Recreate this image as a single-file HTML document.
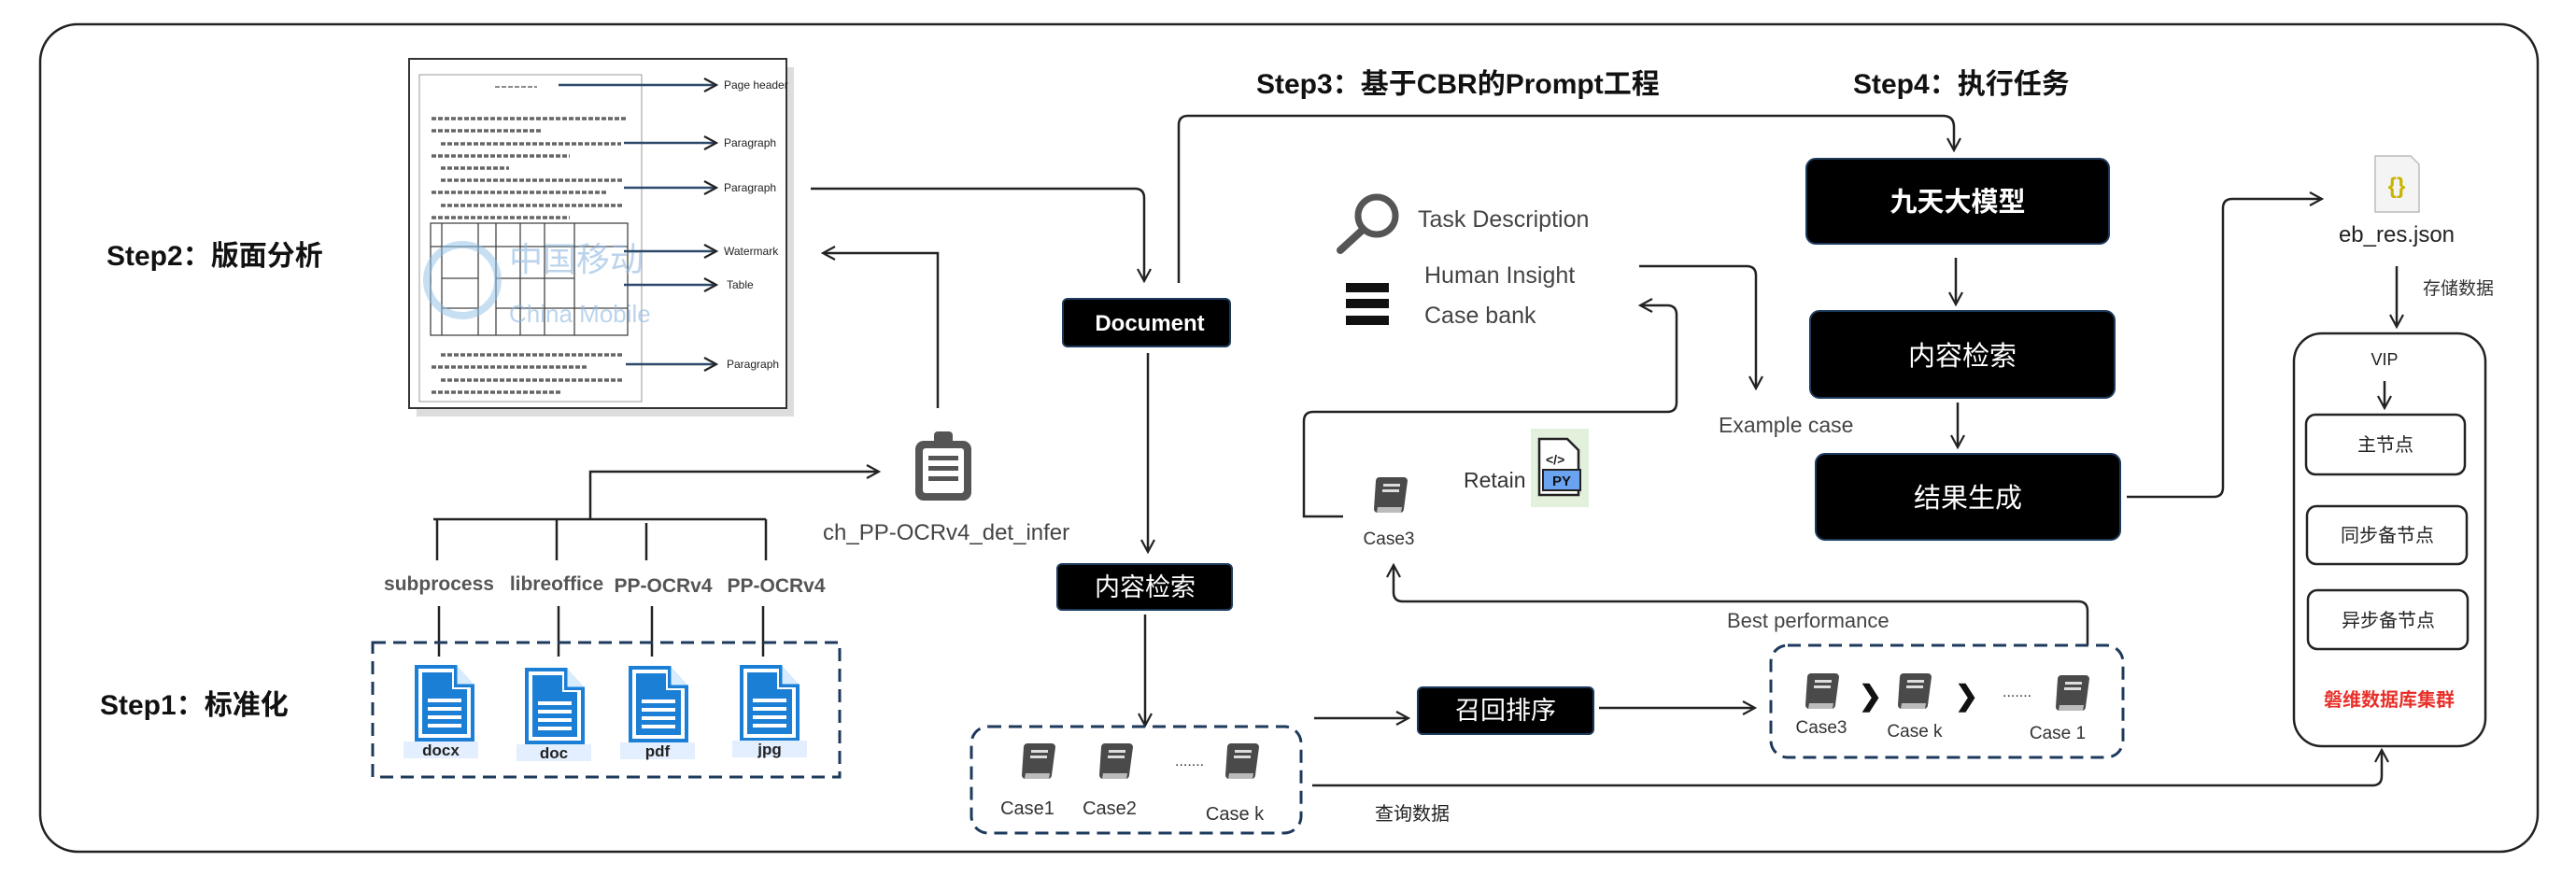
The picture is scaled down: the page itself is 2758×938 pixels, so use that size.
<!DOCTYPE html>
<html><head><meta charset="utf-8"><style>
html,body{margin:0;padding:0;background:#fff;}
svg{display:block;}
text{font-family:"Liberation Sans","Noto Sans CJK SC",sans-serif;}
</style></head><body>
<svg width="2758" height="938" viewBox="0 0 2758 938" xmlns="http://www.w3.org/2000/svg">
<defs>
<marker id="ah" markerWidth="16" markerHeight="16" refX="13" refY="8" orient="auto" markerUnits="userSpaceOnUse">
<path d="M1,1 L14,8 L1,15" fill="none" stroke="#222" stroke-width="2.2"/>
</marker>
<g id="book">
<path d="M6,0 h26 a4,4 0 0 1 4,4 l-4,30 a4,4 0 0 1 -4,4 h-24 a4,4 0 0 1 -4,-4 l2,-30 a4,4 0 0 1 4,-4z" fill="#4a4a4a"/>
<path d="M4,32 h26 l-1,6 h-26z" fill="#bbb"/>
<rect x="10" y="7" width="18" height="3" fill="#ddd"/>
<rect x="9" y="13" width="18" height="3" fill="#ddd"/>
</g>
<g id="file">
<path d="M0,0 h44 l20,22 v60 h-64z" fill="#1b7fd6"/>
<path d="M44,0 v22 h20" fill="#d8ecff" stroke="#1b7fd6" stroke-width="3"/>
<path d="M4,4 h38 v20 h18 v54 h-56z" fill="#fff"/>
<path d="M8,8 h32 v18 h16 v48 h-48z" fill="#1b7fd6"/>
<g fill="#fff"><rect x="14" y="36" width="36" height="4"/><rect x="14" y="45" width="36" height="4"/><rect x="14" y="54" width="36" height="4"/><rect x="14" y="63" width="36" height="4"/></g>
</g>
</defs>

<rect x="43" y="26" width="2674" height="886" rx="40" fill="none" stroke="#222" stroke-width="2.5"/>

<g font-weight="bold" font-size="30" fill="#111">
<text x="114" y="284">Step2：版面分析</text>
<text x="107" y="765">Step1：标准化</text>
<text x="1345" y="100">Step3：基于CBR的Prompt工程</text>
<text x="1984" y="100">Step4：执行任务</text>
</g>

<!-- document image -->
<rect x="446" y="72" width="404" height="374" fill="#bbb" opacity="0.5"/>
<rect x="438" y="63" width="404" height="374" fill="#fff" stroke="#333" stroke-width="2"/>
<rect x="449" y="80" width="238" height="350" fill="#fff" stroke="#999" stroke-width="1"/>
<g stroke="#666" stroke-width="3.5" stroke-dasharray="5,2">
<line x1="462" y1="127" x2="670" y2="127"/><line x1="462" y1="140" x2="580" y2="140"/>
<line x1="472" y1="154" x2="665" y2="154"/><line x1="462" y1="167" x2="610" y2="167"/>
<line x1="472" y1="180" x2="545" y2="180"/><line x1="472" y1="193" x2="668" y2="193"/>
<line x1="462" y1="206" x2="650" y2="206"/><line x1="472" y1="220" x2="668" y2="220"/>
<line x1="462" y1="233" x2="610" y2="233"/>
<line x1="472" y1="380" x2="668" y2="380"/><line x1="462" y1="393" x2="630" y2="393"/>
<line x1="472" y1="407" x2="668" y2="407"/><line x1="462" y1="420" x2="600" y2="420"/>
<line x1="530" y1="93" x2="575" y2="93" stroke-width="1.5"/>
</g>
<g stroke="#444" stroke-width="1.3" fill="none">
<rect x="461" y="239" width="211" height="120"/>
<line x1="461" y1="264" x2="672" y2="264"/><line x1="473" y1="298" x2="512" y2="298"/><line x1="531" y1="298" x2="615" y2="298"/><line x1="473" y1="330" x2="512" y2="330"/><line x1="531" y1="330" x2="672" y2="330"/>
<line x1="473" y1="239" x2="473" y2="359"/><line x1="512" y1="239" x2="512" y2="359"/><line x1="531" y1="239" x2="531" y2="359"/>
<line x1="557" y1="239" x2="557" y2="359"/><line x1="583" y1="239" x2="583" y2="359"/><line x1="615" y1="239" x2="615" y2="359"/>
</g>
<text x="545" y="290" font-size="36" fill="#8fb8e0" opacity="0.6">中国移动</text>
<text x="545" y="345" font-size="26" fill="#8fb8e0" opacity="0.6">China Mobile</text>
<circle cx="495" cy="300" r="38" fill="none" stroke="#8fc0e8" stroke-width="8" opacity="0.5"/>
<g stroke="#2d4a6a" stroke-width="2.5" marker-end="url(#ah)">
<line x1="598" y1="91" x2="766" y2="91"/>
<line x1="668" y1="153" x2="766" y2="153"/>
<line x1="668" y1="201" x2="766" y2="201"/>
<line x1="668" y1="269" x2="766" y2="269"/>
<line x1="668" y1="305" x2="766" y2="305"/>
<line x1="670" y1="390" x2="766" y2="390"/>
</g>
<g font-size="12" fill="#222">
<text x="775" y="95">Page  header</text>
<text x="775" y="157">Paragraph</text>
<text x="775" y="205">Paragraph</text>
<text x="775" y="273">Watermark</text>
<text x="778" y="309">Table</text>
<text x="778" y="394">Paragraph</text>
</g>

<g fill="none" stroke="#222" stroke-width="2.5">
<path d="M868,202 H1215 q10,0 10,10 V300" marker-end="url(#ah)"/>
<path d="M1004,437 V271 H882" marker-end="url(#ah)"/>
<path d="M464,556 H820"/>
<path d="M632,556 V505 H940" marker-end="url(#ah)"/>
<line x1="468" y1="556" x2="468" y2="600"/><line x1="596" y1="556" x2="596" y2="600"/>
<line x1="692" y1="560" x2="692" y2="600"/><line x1="820" y1="556" x2="820" y2="600"/>
<line x1="470" y1="649" x2="470" y2="703"/><line x1="598" y1="649" x2="598" y2="703"/>
<line x1="698" y1="649" x2="698" y2="703"/><line x1="817" y1="649" x2="817" y2="703"/>
<path d="M1229,378 V590" marker-end="url(#ah)"/>
<path d="M1226,658 V776" marker-end="url(#ah)"/>
<path d="M1262,303 V134 q0,-10 10,-10 H2080 q12,0 12,12 V160" marker-end="url(#ah)"/>
</g>

<rect x="980" y="472" width="60" height="64" rx="9" fill="#555"/>
<rect x="1000" y="462" width="20" height="14" rx="4" fill="#555"/>
<rect x="988" y="480" width="44" height="48" rx="3" fill="#fff"/>
<g fill="#555"><rect x="994" y="488" width="32" height="5"/><rect x="994" y="499" width="32" height="5"/><rect x="994" y="510" width="32" height="5"/></g>
<text x="881" y="578" font-size="24" fill="#444">ch_PP-OCRv4_det_infer</text>

<g font-size="21" font-weight="bold" fill="#555" text-anchor="middle">
<text x="470" y="632">subprocess</text><text x="596" y="632">libreoffice</text>
<text x="710" y="634">PP-OCRv4</text><text x="831" y="634">PP-OCRv4</text>
</g>

<rect x="399" y="688" width="500" height="144" fill="none" stroke="#1d3a5c" stroke-width="3" stroke-dasharray="14,8"/>
<use href="#file" x="444" y="712"/><use href="#file" x="562" y="715"/>
<use href="#file" x="673" y="713"/><use href="#file" x="792" y="712"/>
<g fill="#e3efff"><rect x="432" y="794" width="80" height="18"/><rect x="553" y="797" width="80" height="18"/><rect x="664" y="795" width="80" height="18"/><rect x="784" y="793" width="80" height="18"/></g>
<g font-size="17" font-weight="bold" fill="#222" text-anchor="middle">
<text x="472" y="809">docx</text><text x="593" y="812">doc</text><text x="704" y="810">pdf</text><text x="824" y="808">jpg</text>
</g>

<rect x="1138" y="320" width="179" height="51" rx="5" fill="#000" stroke="#1d3a5c" stroke-width="2"/>
<text x="1231" y="354" font-size="24" font-weight="bold" fill="#fff" text-anchor="middle">Document</text>
<rect x="1132" y="604" width="187" height="49" rx="5" fill="#000" stroke="#1d3a5c" stroke-width="2"/>
<text x="1226" y="638" font-size="27" fill="#fff" text-anchor="middle">内容检索</text>

<rect x="1040" y="778" width="353" height="114" rx="18" fill="none" stroke="#1d3a5c" stroke-width="3" stroke-dasharray="14,8"/>
<use href="#book" x="1094" y="796"/><use href="#book" x="1177" y="796"/><use href="#book" x="1312" y="796"/>
<text x="1258" y="820" font-size="16" fill="#333">.......</text>
<g font-size="20" fill="#333" text-anchor="middle">
<text x="1100" y="872">Case1</text><text x="1188" y="872">Case2</text><text x="1322" y="878">Case k</text>
</g>

<g fill="none" stroke="#222" stroke-width="2.5">
<path d="M1405,841 H2540 q10,0 10,-10 V804" marker-end="url(#ah)"/>
<path d="M1407,769 H1507" marker-end="url(#ah)"/>
<path d="M1712,758 H1878" marker-end="url(#ah)"/>
<path d="M2235,691 V654 q0,-10 -10,-10 H1502 q-10,0 -10,-10 V606" marker-end="url(#ah)"/>
<path d="M1438,553 H1396 V451 q0,-10 10,-10 H1785 q10,0 10,-10 V337 q0,-10 -10,-10 H1757" marker-end="url(#ah)"/>
<path d="M1755,285 H1870 q10,0 10,10 V415" marker-end="url(#ah)"/>
<path d="M2094,276 V325" marker-end="url(#ah)"/>
<path d="M2096,431 V478" marker-end="url(#ah)"/>
<path d="M2277,532 H2370 q10,0 10,-10 V223 q0,-10 10,-10 H2485" marker-end="url(#ah)"/>
<path d="M2566,285 V349" marker-end="url(#ah)"/>
<path d="M2553,408 V436" marker-end="url(#ah)"/>
</g>
<text x="1512" y="878" font-size="20" fill="#222" text-anchor="middle">查询数据</text>

<rect x="1518" y="736" width="188" height="50" rx="5" fill="#000" stroke="#1d3a5c" stroke-width="2"/>
<text x="1612" y="770" font-size="27" fill="#fff" text-anchor="middle">召回排序</text>

<text x="1849" y="672" font-size="22" fill="#444">Best  performance</text>
<rect x="1896" y="691" width="377" height="120" rx="18" fill="none" stroke="#1d3a5c" stroke-width="3" stroke-dasharray="14,8"/>
<use href="#book" x="1933" y="721"/><use href="#book" x="2032" y="721"/><use href="#book" x="2201" y="723"/>
<text x="1990" y="755" font-size="30" font-weight="bold" fill="#111">❯</text>
<text x="2093" y="755" font-size="30" font-weight="bold" fill="#111">❯</text>
<text x="2144" y="746" font-size="16" fill="#333">.......</text>
<g font-size="19" fill="#333" text-anchor="middle">
<text x="1950" y="785">Case3</text><text x="2050" y="789">Case k</text><text x="2203" y="791">Case 1</text>
</g>

<circle cx="1474" cy="231" r="20" fill="none" stroke="#555" stroke-width="7"/>
<line x1="1459" y1="246" x2="1435" y2="268" stroke="#555" stroke-width="8" stroke-linecap="round"/>
<text x="1518" y="243" font-size="25" fill="#444">Task Description</text>
<g fill="#111"><rect x="1441" y="303" width="46" height="10"/><rect x="1441" y="320" width="46" height="10"/><rect x="1441" y="338" width="46" height="10"/></g>
<text x="1525" y="303" font-size="25" fill="#444">Human Insight</text>
<text x="1525" y="346" font-size="25" fill="#444">Case bank</text>
<text x="1840" y="463" font-size="23" fill="#444">Example case</text>
<use href="#book" x="1471" y="511"/>
<text x="1487" y="583" font-size="19" fill="#333" text-anchor="middle">Case3</text>
<text x="1567" y="522" font-size="23" fill="#333">Retain</text>
<rect x="1639" y="459" width="62" height="84" fill="#e3f0dc"/>
<path d="M1648,470 h30 l12,12 v48 h-42z" fill="#fff" stroke="#222" stroke-width="2.5"/>
<text x="1655" y="497" font-size="14" font-weight="bold" fill="#222">&lt;/&gt;</text>
<rect x="1652" y="503" width="40" height="22" fill="#6aa3f0" stroke="#222" stroke-width="2"/>
<text x="1672" y="520" font-size="15" font-weight="bold" fill="#111" text-anchor="middle">PY</text>

<rect x="1934" y="170" width="324" height="91" rx="10" fill="#000" stroke="#1d3a5c" stroke-width="2"/>
<text x="2096" y="226" font-size="29" font-weight="bold" fill="#fff" text-anchor="middle">九天大模型</text>
<rect x="1938" y="333" width="326" height="93" rx="10" fill="#000" stroke="#1d3a5c" stroke-width="2"/>
<text x="2101" y="391" font-size="29" fill="#fff" text-anchor="middle">内容检索</text>
<rect x="1944" y="486" width="326" height="92" rx="10" fill="#000" stroke="#1d3a5c" stroke-width="2"/>
<text x="2107" y="543" font-size="29" fill="#fff" text-anchor="middle">结果生成</text>

<path d="M2543,167 h38 l9,9 v51 h-47z" fill="#f4f4f4" stroke="#bbb" stroke-width="1.5"/>
<text x="2566" y="207" font-size="24" font-weight="bold" fill="#c8b400" text-anchor="middle">{}</text>
<text x="2566" y="259" font-size="24" fill="#222" text-anchor="middle">eb_res.json</text>
<text x="2594" y="315" font-size="19" fill="#333">存储数据</text>

<rect x="2456" y="357" width="205" height="442" rx="30" fill="none" stroke="#222" stroke-width="2.5"/>
<text x="2553" y="391" font-size="18" fill="#222" text-anchor="middle">VIP</text>
<rect x="2469" y="444" width="170" height="64" rx="10" fill="none" stroke="#222" stroke-width="2.5"/>
<text x="2554" y="483" font-size="20" fill="#222" text-anchor="middle">主节点</text>
<rect x="2470" y="542" width="171" height="62" rx="10" fill="none" stroke="#222" stroke-width="2.5"/>
<text x="2556" y="580" font-size="20" fill="#222" text-anchor="middle">同步备节点</text>
<rect x="2471" y="632" width="171" height="63" rx="10" fill="none" stroke="#222" stroke-width="2.5"/>
<text x="2557" y="671" font-size="20" fill="#222" text-anchor="middle">异步备节点</text>
<text x="2558" y="756" font-size="20" font-weight="bold" fill="#e8302a" text-anchor="middle">磐维数据库集群</text>
</svg>
</body></html>
